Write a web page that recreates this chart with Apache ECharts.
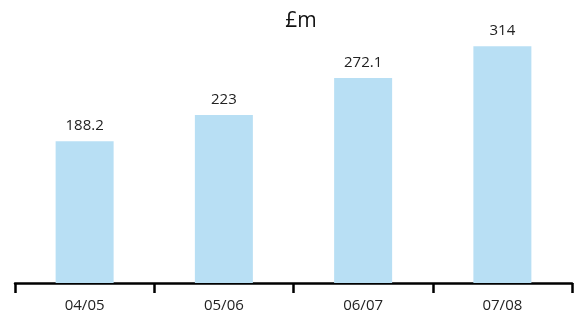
<!DOCTYPE html>
<html>
<head>
<meta charset="utf-8">
<script src="https://cdn.jsdelivr.net/npm/echarts@6/dist/echarts.min.js"></script>
<style>
  html, body { margin: 0; padding: 0; background: #fff; }
  #main { width: 579px; height: 316px; }
</style>
</head>
<body>
<div id="main"></div>
<script>
// values
const years = ['04/05', '05/06', '06/07', '07/08'];
const spend = [188.2, 223, 272.1, 314];

let myChart = echarts.init(document.getElementById('main'));

let option = {
  animation: false,
  textStyle: { fontFamily: 'Open Sans' },
  title: {
    text: '£m',
    left: 296, top: 6,
    textAlign: 'center',
    textStyle: { fontSize: 21, fontWeight: 'normal', color: '#111' }
  },
  grid: { left: 15, top: 23, width: 557, height: 260, containLabel: false },
  xAxis: {
    type: 'category',
    data: years,
    axisLine: { show: true, lineStyle: { color: '#000', width: 2.5 } },
    axisTick: { show: true, alignWithLabel: false, interval: 0, inside: false, length: 10,
      lineStyle: { color: '#000', width: 2.5 } },
    axisLabel: { color: '#222', fontSize: 15, margin: 15 }
  },
  yAxis: {
    type: 'value',
    min: 0, max: 345,
    show: false,
    splitLine: { show: false }
  },
  series: [{
    type: 'bar',
    data: spend,
    barWidth: 58,
    itemStyle: { color: '#b8dff4' },
    label: { show: true, position: 'top', distance: 8, color: '#222', fontSize: 15 }
  }]
};
myChart.setOption(option);
</script>
</body>
</html>
